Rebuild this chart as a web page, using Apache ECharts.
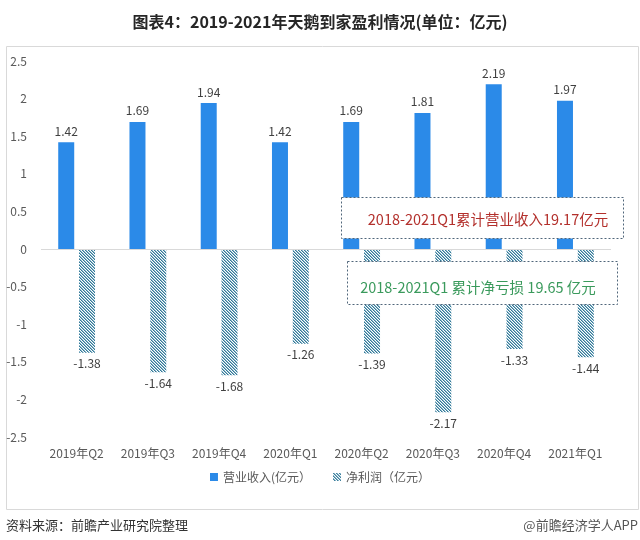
<!DOCTYPE html>
<html><head><meta charset="utf-8">
<script src="https://cdn.jsdelivr.net/npm/echarts@6/dist/echarts.min.js"></script>
<style>html,body{margin:0;padding:0;background:#fff}#c{width:640px;height:540px}</style>
</head><body><div id="c"></div>
<script>
var categories = ['2019年Q2','2019年Q3','2019年Q4','2020年Q1','2020年Q2','2020年Q3','2020年Q4','2021年Q1'];
var revenue = [1.42, 1.69, 1.94, 1.42, 1.69, 1.81, 2.19, 1.97];
var netProfit = [-1.38, -1.64, -1.68, -1.26, -1.39, -2.17, -1.33, -1.44];
var yTicks = {min: -2.5, max: 2.5, interval: 0.5};
var seriesNames = ['营业收入(亿元）', '净利润（亿元）'];

function hatch() {
  var c = document.createElement('canvas');
  c.width = 6; c.height = 6;
  var ctx = c.getContext('2d');
  var img = ctx.createImageData(6, 6);
  for (var y = 0; y < 6; y++) for (var x = 0; x < 6; x++) {
    var m = ((x - y) % 3 + 3) % 3;
    var col = m === 0 ? [52, 120, 150] : (m === 1 ? [140, 185, 205] : [255, 255, 255]);
    var i = (y * 6 + x) * 4;
    img.data[i] = col[0]; img.data[i+1] = col[1]; img.data[i+2] = col[2]; img.data[i+3] = 255;
  }
  ctx.putImageData(img, 0, 0);
  return c;
}
var pattern = {image: hatch(), repeat: 'repeat'};
var font = 'Noto Sans CJK SC';
var chart = echarts.init(document.getElementById('c'), null, {renderer: 'canvas'});
chart.setOption({
  animation: false,
  textStyle: {fontFamily: font},
  title: {text: '图表4：2019-2021年天鹅到家盈利情况(单位：亿元)', left: 'center', top: 9,
    textStyle: {fontSize: 16, fontWeight: 'bold', color: '#262626', fontFamily: font}},
  grid: {left: 41, right: 29, top: 61, bottom: 103},
  legend: {bottom: 52, left: 'center', itemWidth: 8, itemHeight: 8, itemGap: 22,
    textStyle: {fontSize: 12, color: '#595959'},
    data: [{name: seriesNames[0], icon: 'rect'}, {name: seriesNames[1], icon: 'rect'}]},
  xAxis: {type: 'category', data: categories, axisLine: {show: false}, axisTick: {show: false},
    axisLabel: {fontSize: 12, color: '#595959', margin: 10}},
  yAxis: {type: 'value', min: yTicks.min, max: yTicks.max, interval: yTicks.interval,
    axisLine: {show: false}, axisTick: {show: false}, splitLine: {show: false},
    axisLabel: {fontSize: 12, color: '#595959', margin: 14}},
  series: [
    {name: seriesNames[0], type: 'bar', data: revenue, barWidth: 16, barGap: '30%',
      itemStyle: {color: '#2b8ae8'},
      label: {show: true, position: 'top', fontSize: 12, color: '#404040', distance: 5},
      markLine: {silent: true, symbol: 'none', label: {show: false},
        lineStyle: {color: '#d9d9d9', type: 'solid', width: 1}, data: [{yAxis: 0}]}},
    {name: seriesNames[1], type: 'bar', data: netProfit, barWidth: 16,
      itemStyle: {color: pattern},
      label: {show: true, position: 'bottom', fontSize: 12, color: '#404040', distance: 5}}
  ],
  graphic: [
    {type: 'rect', left: 4, top: 44, shape: {width: 632, height: 463}, silent: true,
      style: {fill: 'none', stroke: '#d9d9d9', lineWidth: 1}, z: -1},
    {type: 'rect', left: 341, top: 197, shape: {width: 282, height: 41}, z: 10,
      style: {fill: '#fff', stroke: '#50667a', lineWidth: 1, lineDash: [2, 2]}},
    {type: 'text', x: 488, y: 219, z: 11,
      style: {text: '2018-2021Q1累计营业收入19.17亿元', fontSize: 14.5, fill: '#b3302c', fontFamily: font,
        align: 'center', verticalAlign: 'middle'}},
    {type: 'rect', left: 347, top: 261, shape: {width: 270, height: 43}, z: 10,
      style: {fill: '#fff', stroke: '#50667a', lineWidth: 1, lineDash: [2, 2]}},
    {type: 'text', x: 478, y: 287, z: 11,
      style: {text: '2018-2021Q1 累计净亏损 19.65 亿元', fontSize: 14.5, fill: '#3a9a5c', fontFamily: font,
        align: 'center', verticalAlign: 'middle'}},
    {type: 'text', left: 6, top: 519,
      style: {text: '资料来源：前瞻产业研究院整理', fontSize: 13, fill: '#333', fontFamily: font}},
    {type: 'text', right: 2, top: 519,
      style: {text: '@前瞻经济学人APP', fontSize: 13, fill: '#555', fontFamily: font}}
  ]
});
</script></body></html>
